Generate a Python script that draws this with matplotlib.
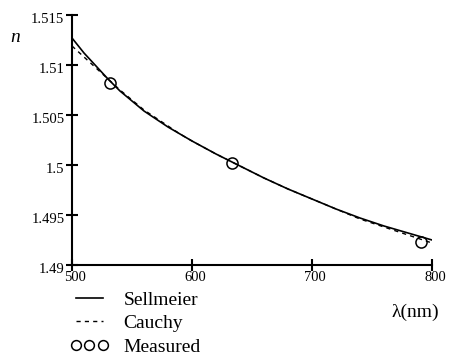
import numpy as np
import matplotlib
matplotlib.use("Agg")
import matplotlib.pyplot as plt
import matplotlib.transforms as mtransforms

# wavelengths in nm and refractive index
wl_sell = [500, 510, 520, 530, 540, 550, 560, 570, 580, 590, 600, 620, 640, 660, 680, 700, 720, 740,
           760, 780, 800]
n_sell = [1.5127, 1.5112, 1.5099, 1.5086, 1.5074, 1.5064, 1.5054, 1.5046, 1.5038, 1.5031, 1.5024,
          1.5011, 1.4999, 1.4987, 1.4976, 1.4966, 1.4956, 1.4947, 1.4939, 1.4932, 1.4925]

wl_cauchy = [500, 510, 520, 530, 540, 550, 560, 570, 580, 590, 600, 620, 640, 660, 680, 700, 720, 740,
             760, 780, 800]
n_cauchy = [1.5119, 1.5108, 1.5097, 1.5086, 1.5075, 1.5065, 1.5055, 1.5047, 1.5039, 1.5031, 1.5024,
            1.5011, 1.4999, 1.4987, 1.4976, 1.4966, 1.4956, 1.4946, 1.4938, 1.4930, 1.4922]

wl_meas = [532, 633, 791]
n_meas = [1.5082, 1.5002, 1.4923]

yticks = [1.49, 1.495, 1.5, 1.505, 1.51, 1.515]
xticks = [500, 600, 700, 800]

plt.rcParams['font.family'] = ['Liberation Serif', 'DejaVu Serif']

fig = plt.figure(figsize=(4.49, 3.55), dpi=100)
W, H = 449, 355
ax = fig.add_axes([72 / W, 1 - 265 / H, (432 - 72) / W, (265 - 15) / H])

ax.plot(wl_sell, n_sell, color='black', lw=1.2, label='Sellmeier')
ax.plot(wl_cauchy, n_cauchy, color='black', lw=1.0, ls=(0, (3, 3)), label='Cauchy')
ax.plot(wl_meas, n_meas, ls='none', marker='o', ms=8, mfc='none', mec='black', mew=1.1,
        label='Measured')

ax.set_xlim(500, 800)
ax.set_ylim(1.49, 1.515)
ax.set_xticks(xticks)
ax.set_yticks(yticks)
ax.set_xticklabels([str(t) for t in xticks])
ax.set_yticklabels(['%g' % t for t in yticks])

for s in ['top', 'right']:
    ax.spines[s].set_visible(False)
for s in ['left', 'bottom']:
    ax.spines[s].set_linewidth(1.5)
ax.tick_params(direction='inout', length=9, width=1.5, labelsize=10.5, pad=1)
ax.tick_params(axis='x', pad=0)

# shift tick labels a little like the original layout
off_y = mtransforms.ScaledTranslation(0, -3 / 100, fig.dpi_scale_trans)
for lab in ax.get_yticklabels():
    lab.set_transform(lab.get_transform() + off_y)
off_x = mtransforms.ScaledTranslation(3 / 100, 0, fig.dpi_scale_trans)
for lab in ax.get_xticklabels():
    lab.set_transform(lab.get_transform() + off_x)

fig.text(10 / W, 1 - 38 / H, 'n', fontsize=14, style='italic', va='center', ha='left')
fig.text(439 / W, 1 - 312 / H, 'λ(nm)', fontsize=14, va='center', ha='right')

ax.legend(loc='upper left', bbox_to_anchor=(70 / W, 1 - 291 / H), bbox_transform=fig.transFigure,
          frameon=False, fontsize=14, numpoints=3, handlelength=2.0, handletextpad=0.75,
          labelspacing=0.3, borderpad=0, borderaxespad=0, markerscale=0.88)

fig.savefig('out.png', dpi=100)
